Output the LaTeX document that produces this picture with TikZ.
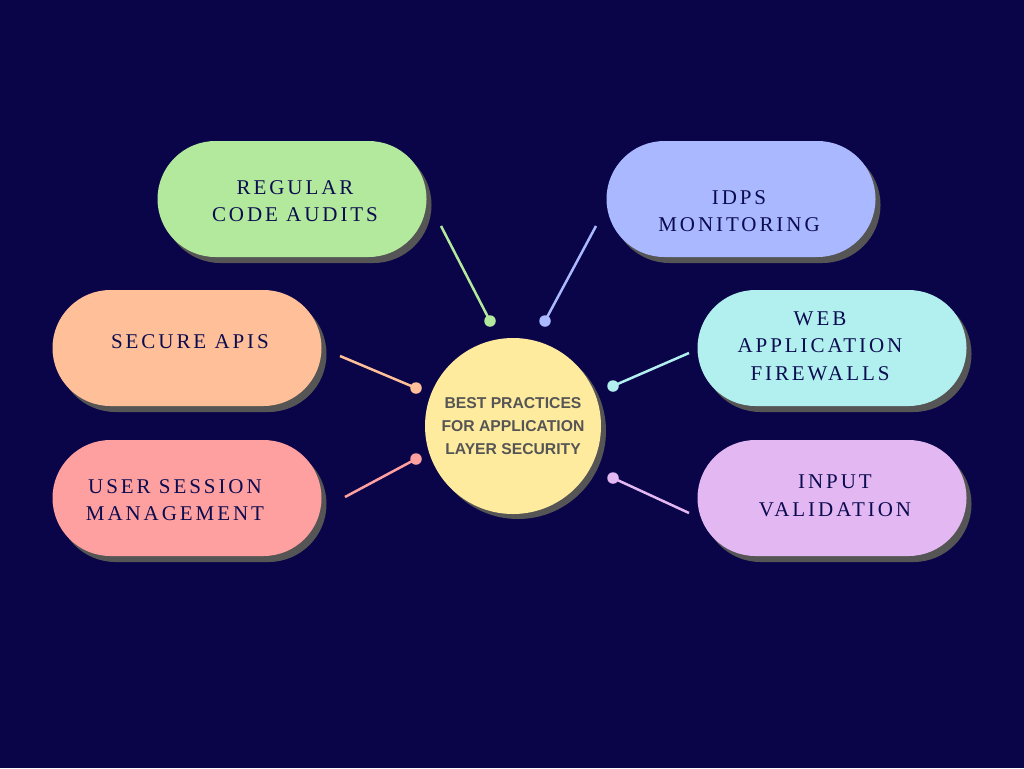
\documentclass[tikz,border=0pt]{standalone}
\usepackage{fontspec}
\setmainfont{Liberation Serif}
\newfontfamily\pillfont{Liberation Serif}[LetterSpace=14]
\newfontfamily\corefont{Liberation Sans}
\usetikzlibrary{shadows}

\definecolor{bgnavy}{HTML}{0A0548}
\definecolor{inknavy}{HTML}{0B0B4F}
\definecolor{shadowgray}{HTML}{555555}
\definecolor{coregray}{HTML}{555555}
\definecolor{cyellow}{HTML}{FFEB9E}
\definecolor{cgreen}{HTML}{B3E99D}
\definecolor{cblue}{HTML}{AAB8FF}
\definecolor{corange}{HTML}{FFBF99}
\definecolor{cred}{HTML}{FFA0A0}
\definecolor{ccyan}{HTML}{B2F0F0}
\definecolor{clilac}{HTML}{E3B7F2}

\begin{document}
\begin{tikzpicture}[x=1pt,y=-1pt,line width=2.5pt,
  pill/.style={rounded corners=58pt,minimum width=269pt,minimum height=116pt,inner sep=0pt,
    drop shadow={shadow xshift=5pt,shadow yshift=-6pt,opacity=1,fill=shadowgray}},
  pilltext/.style={align=center,text=inknavy,font=\pillfont\fontsize{21}{27.5}\selectfont},
  core/.style={circle,minimum size=176pt,fill=cyellow,text=coregray,align=center,
    font=\corefont\bfseries\fontsize{15.7}{23}\selectfont,
    drop shadow={shadow xshift=5pt,shadow yshift=-5pt,opacity=1,fill=shadowgray}},
  dot/.style={circle,minimum size=11.5pt,inner sep=0pt}]
  \fill[bgnavy] (0,0) rectangle (1024,768);
  \useasboundingbox (0,0) rectangle (1024,768);

  % centre
  \node[core] (core) at (513,426) {BEST PRACTICES\\FOR APPLICATION\\LAYER SECURITY};

  % pills
  \node[pill,fill=cgreen] (audits) at (292,199) {};
  \node[pilltext] (audits-t) at ([shift={(3,2)}]audits) {REGULAR\\CODE AUDITS};
  \node[pill,fill=cblue] (idps) at (741,199) {};
  \node[pilltext] (idps-t) at ([shift={(-2,12)}]idps) {IDPS\\MONITORING};
  \node[pill,fill=corange] (apis) at (187,348) {};
  \node[pilltext] (apis-t) at ([shift={(3,-6)}]apis) {SECURE APIS};
  \node[pill,fill=ccyan] (waf) at (832,348) {};
  \node[pilltext] (waf-t) at ([shift={(-12,-2)}]waf) {WEB\\APPLICATION\\FIREWALLS};
  \node[pill,fill=cred] (session) at (187,498) {};
  \node[pilltext] (session-t) at ([shift={(-12,2)}]session) {USER SESSION\\MANAGEMENT};
  \node[pill,fill=clilac] (validation) at (832,498) {};
  \node[pilltext] (validation-t) at ([shift={(3,-2)}]validation) {INPUT\\VALIDATION};

  % connectors
  \node[dot,fill=cgreen] (d-audits) at (490,321) {};
  \node[dot,fill=cblue] (d-idps) at (545,321) {};
  \node[dot,fill=corange] (d-apis) at (416,388) {};
  \node[dot,fill=cred] (d-session) at (416,459) {};
  \node[dot,fill=ccyan] (d-waf) at (613,386) {};
  \node[dot,fill=clilac] (d-validation) at (613,478) {};
  \coordinate (e-audits) at (441,226);
  \coordinate (e-idps) at (596,226);
  \coordinate (e-apis) at (340,356);
  \coordinate (e-session) at (345,497);
  \coordinate (e-waf) at (689,353);
  \coordinate (e-validation) at (689,513);
  \draw[cgreen] (e-audits) -- (d-audits.center);
  \draw[cblue] (e-idps) -- (d-idps.center);
  \draw[corange] (e-apis) -- (d-apis.center);
  \draw[cred] (e-session) -- (d-session.center);
  \draw[ccyan] (e-waf) -- (d-waf.center);
  \draw[clilac] (e-validation) -- (d-validation.center);
\end{tikzpicture}
\end{document}
